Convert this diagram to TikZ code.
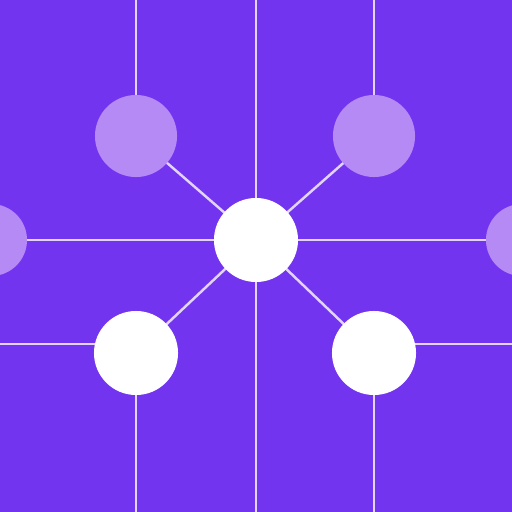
\documentclass[tikz,border=0pt]{standalone}
\pgfdeclarelayer{bg}
\pgfdeclarelayer{edges}
\pgfsetlayers{bg,edges,main}
\definecolor{bgpurple}{RGB}{115,52,240}
\definecolor{lightdot}{RGB}{182,138,245}
\definecolor{edgecol}{RGB}{226,212,252}
\tikzset{
  hub/.style={circle, fill=white, inner sep=0pt, minimum size=0.84cm},
  whitedot/.style={circle, fill=white, inner sep=0pt, minimum size=0.84cm},
  lilacdot/.style={circle, fill=lightdot, inner sep=0pt, minimum size=0.82cm},
  sidedot/.style={circle, fill=lightdot, inner sep=0pt, minimum size=0.72cm},
  link/.style={draw=edgecol, line width=0.7pt}
}
\begin{document}
\begin{tikzpicture}[x=0.01cm, y=-0.01cm]
\begin{pgfonlayer}{bg}
  \fill[bgpurple] (0,0) rectangle (512,512);
\end{pgfonlayer}
\useasboundingbox (0,0) rectangle (512,512);
\begin{scope}
  \clip (0,0) rectangle (512,512);
  \node[hub] (c) at (256,240) {};
  \node[lilacdot] (ul) at (136,136) {};
  \node[lilacdot] (ur) at (374,136) {};
  \node[sidedot] (l) at (-9,240) {};
  \node[sidedot] (r) at (522,240) {};
  \node[whitedot] (ll) at (136,353) {};
  \node[whitedot] (lr) at (374,353) {};
\end{scope}
\coordinate (ctop) at (256,0);
\coordinate (cbot) at (256,512);
\coordinate (ultop) at (136,0);
\coordinate (urtop) at (374,0);
\coordinate (llL) at (0,344);
\coordinate (lrR) at (512,344);
\coordinate (llB) at (136,512);
\coordinate (lrB) at (374,512);
\begin{pgfonlayer}{edges}
  \draw[link] (ctop) -- (c.center) -- (cbot);
  \draw[link] (l.center) -- (c.center) -- (r.center);
  \draw[link] (ultop) -- (ul.center);
  \draw[link] (urtop) -- (ur.center);
  \draw[link] (c.center) -- (ul.center);
  \draw[link] (c.center) -- (ur.center);
  \draw[link] (c.center) -- (ll.center);
  \draw[link] (c.center) -- (lr.center);
  \draw[link] (llL) -- (llL -| ll.center);
  \draw[link] (lrR) -- (lrR -| lr.center);
  \draw[link] (ll.center) -- (llB);
  \draw[link] (lr.center) -- (lrB);
\end{pgfonlayer}
\end{tikzpicture}
\end{document}
